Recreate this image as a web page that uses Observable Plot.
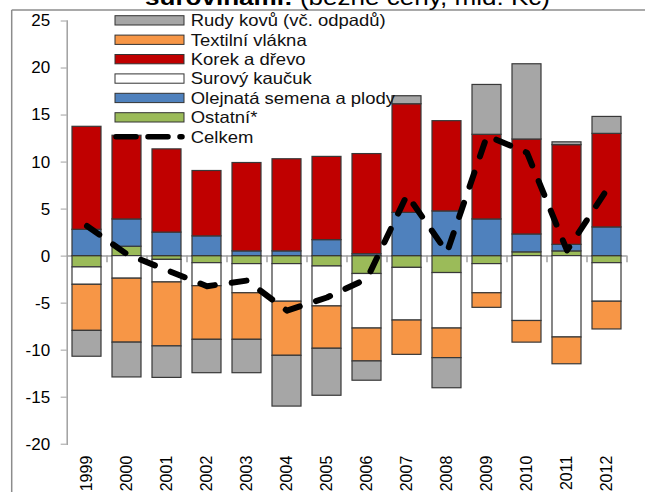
<!DOCTYPE html>
<html><head><meta charset="utf-8">
<script src="https://cdn.jsdelivr.net/npm/d3@7"></script>
<script src="https://cdn.jsdelivr.net/npm/@observablehq/plot@0.6"></script>
<style>
body{margin:0;background:#fff;}
#wrap{position:relative;width:645px;height:492px;overflow:hidden;font-family:"Liberation Sans",Arial,sans-serif;background:#fff;}
#wrap svg{position:absolute;left:0;top:0;}
</style></head><body><div id="wrap"></div>
<script>
const years = ["1999","2000","2001","2002","2003","2004","2005","2006","2007","2008","2009","2010","2011","2012"];
const seriesNames = ["Ostatní*","Olejnatá semena a plody","Surový kaučuk","Korek a dřevo","Textilní vlákna","Rudy kovů (vč. odpadů)"];
const seriesColors = ["#9bbb59","#4f81bd","#ffffff","#c00000","#f79646","#a6a6a6"];
const ostatni  = [-1.2, 1.0, -0.4, -0.75, -0.85, -0.85, -1.1, -1.9, -1.25, -1.8, -0.85, 0.4, 0.5, -0.75];
const olejnata = [2.8, 2.9, 2.5, 2.1, 0.5, 0.5, 1.7, 0.2, 4.6, 4.75, 3.9, 1.9, 0.7, 3.05];
const surovy   = [-1.85, -2.4, -2.4, -2.45, -3.1, -4.0, -4.25, -5.8, -5.6, -5.9, -3.1, -6.9, -8.65, -4.1];
const korek    = [10.95, 8.9, 8.85, 6.95, 9.4, 9.8, 8.85, 10.65, 11.55, 9.6, 9.0, 10.1, 10.6, 9.95];
const textilni = [-4.9, -6.8, -6.8, -5.7, -4.95, -5.75, -4.5, -3.5, -3.65, -3.15, -1.55, -2.3, -2.85, -2.95];
const rudy     = [-2.75, -3.7, -3.35, -3.55, -3.55, -5.4, -5.0, -2.05, 0.85, -3.2, 5.3, 8.0, 0.3, 1.8];
const celkem   = [3.2, 0.2, -1.5, -3.2, -2.6, -5.8, -4.4, -2.4, 6.5, 0.4, 12.8, 11.0, 0.6, 7.1];
const totalLabel = "Celkem";
const yTicks = [-20,-15,-10,-5,0,5,10,15,20,25];
const titleBold = "surovinami:";
const titleRest = " (běžné ceny, mld. Kč)";

const valuesBySeries = [ostatni, olejnata, surovy, korek, textilni, rudy];
const rows = [];
seriesNames.forEach((s,i) => years.forEach((y,j) => rows.push({year:y, series:s, value:valuesBySeries[i][j]})));
const lineRows = years.map((y,j) => ({year:y, value:celkem[j]}));

const FONT = '"Liberation Sans", Arial, sans-serif';
const plot = Plot.plot({
  width:645, height:492,
  marginTop:20.5, marginBottom:48.3, marginLeft:66.7, marginRight:18.3,
  style:{fontFamily:FONT, fontSize:"17px", color:"#000", background:"transparent"},
  x:{domain:years, paddingInner:0.285, paddingOuter:0.1425, label:null},
  y:{domain:[-20,25], label:null},
  color:{domain:seriesNames, range:seriesColors},
  marks:[
    Plot.ruleY([0], {stroke:"#a0a0a0", strokeWidth:1.5}),
    Plot.ruleX(years, {x:d=>d, y1:0, y2:-0.7, dx:20, stroke:"#a0a0a0", strokeWidth:1.5}),
    Plot.barY(rows, {x:"year", y:"value", fill:"series", z:"series", stroke:"#383838", strokeWidth:1.2}),
    Plot.line(lineRows, {x:"year", y:"value", stroke:"#000", strokeWidth:6, strokeDasharray:"15,17", strokeLinecap:"round", strokeLinejoin:"round"}),
    Plot.axisY({ticks:yTicks, tickSize:6, tickPadding:11, tickFormat:d=>String(d), stroke:"#a0a0a0", fill:"#000", fontSize:17, label:null}),
    Plot.frame({anchor:"left", stroke:"#a0a0a0", strokeWidth:1.5}),
    Plot.axisX({tickSize:0, tickRotate:-90, tickPadding:11.5, fontSize:16, fill:"#000", label:null})
  ]
});
const wrap = document.getElementById("wrap");
wrap.appendChild(plot);

// overlay: border, title, legend
const ov = d3.select(wrap).append("svg").attr("width",645).attr("height",492)
  .style("font-family", FONT);
ov.append("line").attr("x1",11.7).attr("x2",11.7).attr("y1",10).attr("y2",492).attr("stroke","#8c8c8c").attr("stroke-width",1.5);
ov.append("line").attr("x1",11.7).attr("x2",645).attr("y1",10).attr("y2",10).attr("stroke","#8c8c8c").attr("stroke-width",1.5);

const t = ov.append("text").attr("x",347.5).attr("y",4.5).attr("text-anchor","middle")
  .attr("font-size",22).attr("textLength",405).attr("lengthAdjust","spacingAndGlyphs").attr("fill","#000");
t.append("tspan").attr("font-weight","bold").text(titleBold);
t.append("tspan").text(titleRest);

const legendItems = seriesNames.map((s,i)=>({name:s, color:seriesColors[i]})).reverse();
const rowY = i => 20.3 + i*19.4;
const lg = ov.append("g");
legendItems.forEach((d,i) => {
  lg.append("rect").attr("x",115).attr("y",rowY(i)-4.6).attr("width",69).attr("height",9.3)
    .attr("fill",d.color).attr("stroke","#333").attr("stroke-width",1);
  lg.append("g").attr("transform",`translate(190.7,${rowY(i)}) scale(1.12,1)`)
    .append("text").attr("dy","0.36em").attr("font-size",16.5).attr("fill","#111").text(d.name);
});
const ci = legendItems.length;
lg.append("line").attr("x1",116).attr("x2",182).attr("y1",rowY(ci)).attr("y2",rowY(ci))
  .attr("stroke","#000").attr("stroke-width",5.5).attr("stroke-linecap","round").attr("stroke-dasharray","20,12");
lg.append("g").attr("transform",`translate(190.7,${rowY(ci)}) scale(1.12,1)`)
  .append("text").attr("dy","0.36em").attr("font-size",16.5).attr("fill","#111").text(totalLabel);
</script></body></html>
